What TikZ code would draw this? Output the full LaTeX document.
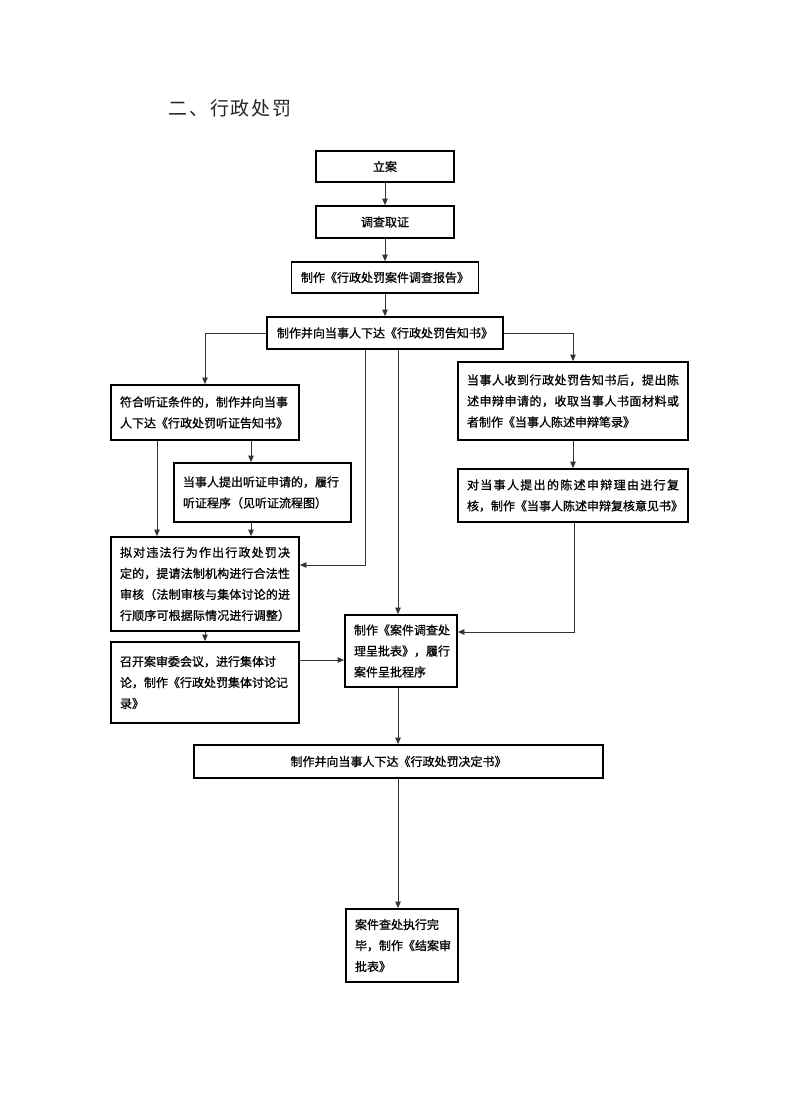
\documentclass[tikz,border=0pt]{standalone}
\usepackage{fontspec}
\usetikzlibrary{arrows.meta}
\newfontfamily\cjk[FakeBold=0.9]{Noto Sans CJK SC}
\newfontfamily\cjktitle{Noto Sans CJK SC}
\def\jl#1#2{\leavevmode\hbox to #1{\jlA#2\relax}}
\def\jlA#1{#1\jlB}
\def\jlB#1{\ifx\relax#1\else\hfil#1\expandafter\jlB\fi}
\begin{document}
\begin{tikzpicture}[x=1pt,y=-1pt,
  box/.style={draw=black, line width=1.8pt, inner xsep=9pt, inner ysep=0pt,
    font=\cjk\fontsize{12}{21}\selectfont},
  tbox/.style={box, align=left},
  arr/.style={draw=black!80, line width=0.8pt, -{Triangle[length=6.5pt,width=5.5pt]}}]
\useasboundingbox[fill=white] (0,0) rectangle (794,1108);
\node[anchor=west, text=black!85, font=\cjktitle\fontsize{19}{22}\selectfont] (title) at (165,108) {\jl{123pt}{二、行政处罚}};
\node[box, minimum width=138pt, minimum height=31pt] (b1) at (385,166.5) {立案};
\node[box, minimum width=138pt, minimum height=32pt] (b2) at (385,222) {调查取证};
\node[box, minimum width=187pt, minimum height=31pt] (b3) at (385,277.5) {制作《行政处罚案件调查报告》};
\node[box, minimum width=236pt, minimum height=32pt] (b4) at (385,333) {制作并向当事人下达《行政处罚告知书》};
\node[tbox, text width=170pt, minimum width=188pt, minimum height=55pt] (b5) at (205,412.5) {符合听证条件的，制作并向当事\\人下达《行政处罚听证告知书》};
\node[tbox, text width=159pt, minimum width=177pt, minimum height=59pt] (b6) at (262.5,492.5) {当事人提出听证申请的，履行\\听证程序（见听证流程图）};
\node[tbox, text width=170pt, minimum width=188pt, minimum height=94pt] (b7) at (205,584) {\jl{170pt}{拟对违法行为作出行政处罚决}\\\jl{170pt}{定的，提请法制机构进行合法性}\\\jl{170pt}{审核（法制审核与集体讨论的进}\\\jl{170pt}{行顺序可根据际情况进行调整）}};
\node[tbox, text width=94pt, minimum width=112pt, minimum height=72pt] (b8) at (401,651) {制作《案件调查处\\理呈批表》，履行\\案件呈批程序};
\node[tbox, text width=170pt, minimum width=188pt, minimum height=81pt] (b9) at (205,682.5) {召开案审委会议，进行集体讨\\论，制作《行政处罚集体讨论记\\录》};
\node[tbox, text width=212pt, minimum width=230pt, minimum height=78pt] (b10) at (573,401) {\jl{212pt}{当事人收到行政处罚告知书后，提出陈}\\\jl{212pt}{述申辩申请的，收取当事人书面材料或}\\者制作《当事人陈述申辩笔录》};
\node[tbox, text width=212pt, minimum width=230pt, minimum height=53pt] (b11) at (573,495.5) {\jl{212pt}{对当事人提出的陈述申辩理由进行复}\\核，制作《当事人陈述申辩复核意见书》};
\node[box, minimum width=409pt, minimum height=33pt] (b12) at (398.5,761.5) {制作并向当事人下达《行政处罚决定书》};
\node[tbox, text width=94pt, minimum width=112pt, minimum height=73pt] (b13) at (402,945.5) {案件查处执行完\\毕，制作《结案审\\批表》};
\coordinate (k1) at (365,565);
\coordinate (k2) at (398,0);
\coordinate (k3) at (157,0);
\coordinate (k4) at (251,0);
\coordinate (k5) at (0,660);
\coordinate (k6) at (574,632);
\draw[arr] (b1.south) -- (b2.north);
\draw[arr] (b2.south) -- (b3.north);
\draw[arr] (b3.south) -- (b4.north);
\draw[arr] (b4.west) -| (b5.north);
\draw[arr] (b4.east) -| (b10.north);
\draw[arr] (b4.south -| k1) -- (k1) -- (b7.east |- k1);
\draw[arr] (b4.south -| k2) -- (b8.north -| k2);
\draw[arr] (b5.south -| k3) -- (b7.north -| k3);
\draw[arr] (b5.south -| k4) -- (b6.north -| k4);
\draw[arr] (b6.south -| k4) -- (b7.north -| k4);
\draw[arr] (b7.south) -- (b9.north);
\draw[arr] (b9.east |- k5) -- (b8.west |- k5);
\draw[arr] (b10.south) -- (b11.north);
\draw[arr] (b11.south -| k6) -- (k6) -- (b8.east |- k6);
\draw[arr] (b8.south -| k2) -- (b12.north -| k2);
\draw[arr] (b12.south -| k2) -- (b13.north -| k2);
\end{tikzpicture}
\end{document}
